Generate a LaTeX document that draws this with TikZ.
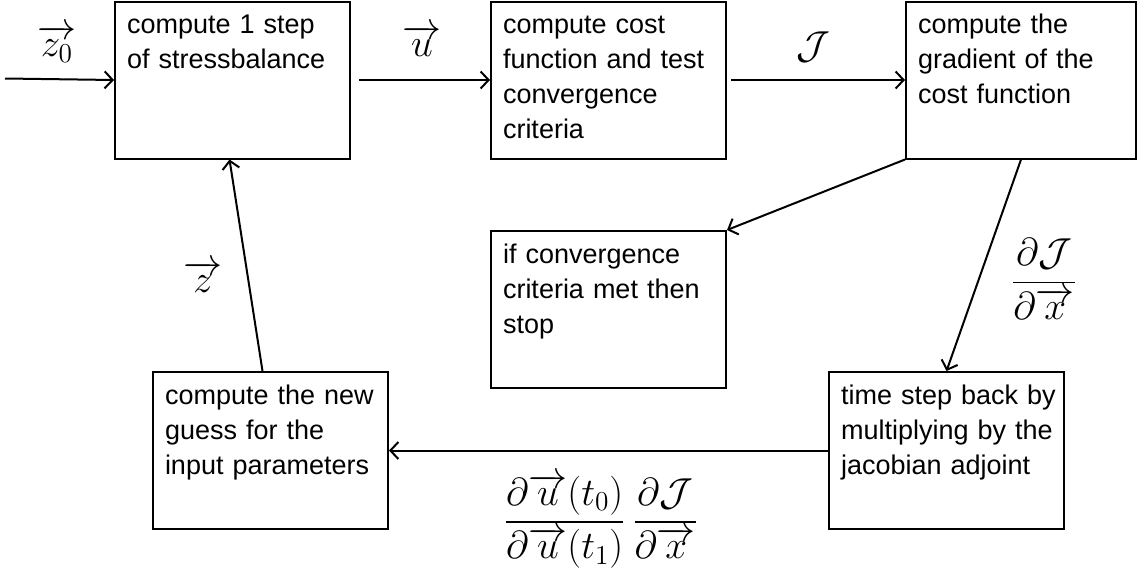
\documentclass[tikz,border=0pt]{standalone}
\usepackage{fix-cm}
\usepackage{amsmath}
\usepackage{amssymb}
\usepackage{fontspec}
\setmainfont{Liberation Sans}
\usepackage{tikz}
\usetikzlibrary{arrows.meta}

\begin{document}
\begin{tikzpicture}[x=0.5pt,y=0.5pt,yscale=-1,xscale=1,
    stepbox/.style={draw, line width=1pt, anchor=north west, align=left,
      font=\fontsize{13.5}{17.5}\selectfont, text width=105.5pt,
      inner xsep=6pt, inner ysep=3.75pt, text height=12.25pt, text depth=58.75pt},
    mathlabel/.style={font=\fontsize{19.5}{23}\selectfont, inner sep=0pt},
    flow/.style={draw, line width=1pt, -{Straight Barb[length=4pt,width=8.5pt]}}]
\useasboundingbox (0,0) rectangle (1138,573);

% Boxes
\node [stepbox] (run) at (114,0.5) {compute 1 step\\of stressbalance};
\node [stepbox] (cost) at (490,0.5) {compute cost\\function and test\\convergence\\criteria};
\node [stepbox, text width=103pt] (grad) at (905,0.5) {compute the\\gradient of the\\cost function};
\node [stepbox] (stop) at (490,230) {if convergence\\criteria met then\\stop};
\node [stepbox] (back) at (828,371) {\mbox{time step back by}\\\mbox{multiplying by the}\\jacobian adjoint};
\node [stepbox] (guess) at (152,371) {compute the new\\guess for the\\input parameters};

% Text Node
\coordinate (start) at (5,78.5);
\node [mathlabel] (zstart) at (57,44) {$\overrightarrow{z_0}$};
\node [mathlabel] (ulab) at (422,41) {$\overrightarrow{u}$};
\node [mathlabel] (jlab) at (813,47) {$\mathcal{J}$};
\node [mathlabel] (dlab) at (1044,279) {$\dfrac{\partial\mathcal{J}}{\partial\overrightarrow{x}}$};
\node [mathlabel] (adjlab) at (601,521) {$\dfrac{\partial\overrightarrow{u}(t_0)}{\partial\overrightarrow{u}(t_1)}\,\dfrac{\partial\mathcal{J}}{\partial\overrightarrow{x}}$};
\node [mathlabel] (zlab) at (203,277) {$\overrightarrow{z}$};

% Straight Lines
\draw [flow] (start) -- (run.west);
\draw [flow, shorten <=4pt] (run.east) -- (cost.west);
\draw [flow, shorten <=2pt] (cost.east) -- (grad.west);
\draw [flow] (grad.south west) -- (stop.north east);
\draw [flow] (grad.south) -- (back.north);
\draw [flow] (back.west) -- (guess.east);
\draw [flow] ([xshift=-4pt]guess.north) -- ([xshift=-1.5pt]run.south);

\end{tikzpicture}
\end{document}
